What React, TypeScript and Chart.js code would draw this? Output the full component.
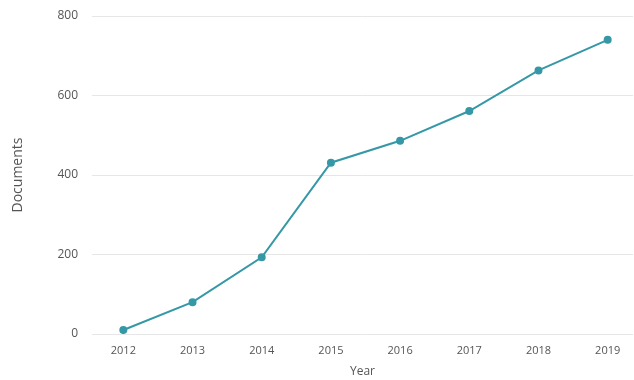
import React, { useEffect, useRef } from "react";
import { Chart, registerables } from "chart.js";

Chart.register(...registerables);

const years = [2012, 2013, 2014, 2015, 2016, 2017, 2018, 2019];
const documents = [10, 80, 193, 431, 486, 561, 663, 740];
const yTicks = [0, 200, 400, 600, 800];

const LINE_COLOR = "#3698a6";
const TEXT_COLOR = "#555555";
const GRID_COLOR = "#e6e6e6";

export default function App() {
  const ref = useRef<HTMLCanvasElement | null>(null);

  useEffect(() => {
    if (!ref.current) return;
    const chart = new Chart(ref.current, {
      type: "line",
      data: {
        datasets: [
          {
            label: "Documents",
            data: years.map((y, i) => ({ x: y, y: documents[i] })),
            borderColor: LINE_COLOR,
            backgroundColor: LINE_COLOR,
            pointBackgroundColor: LINE_COLOR,
            pointBorderColor: LINE_COLOR,
            borderWidth: 2,
            pointRadius: 3,
            tension: 0,
          },
        ],
      },
      options: {
        animation: false,
        responsive: false,
        maintainAspectRatio: false,
        layout: { padding: { top: 16, right: 2, bottom: 1, left: 0 } },
        plugins: { legend: { display: false }, tooltip: { enabled: false } },
        scales: {
          x: {
            type: "linear",
            min: 2011.547,
            max: 2019.366,
            afterBuildTicks: (scale: any) => {
              scale.ticks = years.map((v) => ({ value: v }));
            },
            afterFit: (scale: any) => {
              scale.height = 45;
              scale.paddingLeft = 0;
              scale.paddingRight = 0;
            },
            grid: { display: false, drawTicks: false },
            border: { display: false },
            ticks: {
              color: TEXT_COLOR,
              font: { family: "Open Sans", size: 11 },
              padding: 10,
              maxRotation: 0,
              autoSkip: false,
              callback: (v: any) => String(v),
            },
            title: {
              display: true,
              text: "Year",
              color: TEXT_COLOR,
              font: { family: "Open Sans", size: 12 },
              padding: { top: 8, bottom: 0 },
            },
          },
          y: {
            min: 0,
            max: 800,
            afterBuildTicks: (scale: any) => {
              scale.ticks = yTicks.map((v) => ({ value: v }));
            },
            afterFit: (scale: any) => {
              scale.width = 92;
              scale.paddingTop = 0;
              scale.paddingBottom = 0;
            },
            grid: { color: GRID_COLOR, lineWidth: 1, drawTicks: false },
            border: { display: false },
            ticks: {
              color: TEXT_COLOR,
              font: { family: "Open Sans", size: 12 },
              padding: 14,
            },
            title: {
              display: true,
              text: "Documents",
              color: TEXT_COLOR,
              font: { family: "Open Sans", size: 14 },
              padding: { top: 10, bottom: 0 },
            },
          },
        },
      },
    });
    return () => chart.destroy();
  }, []);

  return (
    <div style={{ position: "fixed", left: 0, top: 0, width: 634, height: 380, overflow: "hidden", background: "#fff" }}>
      <canvas ref={ref} width={639} height={380} style={{ display: "block", width: 639, height: 380 }} />
    </div>
  );
}
